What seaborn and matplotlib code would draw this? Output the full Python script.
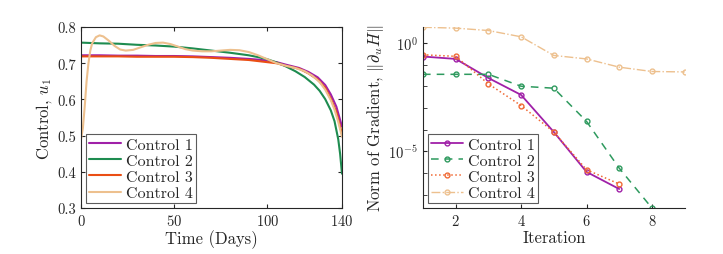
import numpy as np
import matplotlib
matplotlib.use("Agg")
import matplotlib.pyplot as plt
import seaborn as sns
import pandas as pd

sns.set_style("ticks")
plt.rcParams['font.family'] = ['cmr10', 'DejaVu Serif']
plt.rcParams['mathtext.fontset'] = 'cm'
plt.rcParams['axes.formatter.use_mathtext'] = True

# --- left panel: control profiles u1(t)
t1 = [0, 10, 20, 30, 40, 50, 60, 70, 80, 90, 95, 100, 105, 110, 117, 122, 127, 131, 134, 137, 140]
u_c1 = [0.722, 0.722, 0.721, 0.721, 0.720, 0.720, 0.719, 0.717, 0.715, 0.712, 0.710, 0.707, 0.703, 0.696, 0.687, 0.676, 0.661, 0.640, 0.614, 0.580, 0.525]
u_c3 = [0.719, 0.719, 0.719, 0.718, 0.718, 0.718, 0.717, 0.715, 0.712, 0.709, 0.706, 0.703, 0.700, 0.693, 0.685, 0.672, 0.655, 0.632, 0.602, 0.565, 0.505]

t2 = [0, 10, 20, 30, 40, 50, 60, 70, 80, 90, 95, 100, 105, 110, 115, 120, 125, 128, 131, 134, 136, 138, 139, 140]
u_c2 = [0.757, 0.755, 0.754, 0.751, 0.749, 0.746, 0.741, 0.735, 0.729, 0.722, 0.717, 0.711, 0.702, 0.691, 0.678, 0.662, 0.641, 0.624, 0.601, 0.570, 0.540, 0.490, 0.450, 0.395]

t4 = [0, 1, 2, 3, 4, 5, 6, 8, 10, 12, 15, 18, 21, 24, 28, 32, 36, 40, 44, 48, 52, 56, 60, 65, 70,
      75, 80, 85, 90, 95, 100, 105, 110, 115, 120, 124, 128, 131, 134, 136, 138, 140]
u_c4 = [0.49, 0.52, 0.58, 0.65, 0.70, 0.735, 0.755, 0.772, 0.777, 0.774, 0.762, 0.748, 0.738, 0.735,
        0.737, 0.744, 0.751, 0.756, 0.757, 0.753, 0.746, 0.739, 0.735, 0.733, 0.733, 0.735, 0.737,
        0.736, 0.731, 0.722, 0.711, 0.700, 0.693, 0.687, 0.678, 0.666, 0.648, 0.627, 0.598, 0.572,
        0.538, 0.497]

# --- right panel: gradient norm per iteration (log10 values)
it_c1 = [1, 2, 3, 4, 5, 6, 7]
g_c1 = [-0.63, -0.74, -1.62, -2.40, -4.11, -5.95, -6.74]
it_c2 = [1, 2, 3, 4, 5, 6, 7, 8]
g_c2 = [-1.45, -1.45, -1.45, -2.00, -2.09, -3.62, -5.78, -7.62]
it_c3 = [1, 2, 3, 4, 5, 6, 7]
g_c3 = [-0.55, -0.62, -1.89, -2.89, -4.11, -5.85, -6.51]
it_c4 = [1, 2, 3, 4, 5, 6, 7, 8, 9]
g_c4 = [0.72, 0.68, 0.57, 0.28, -0.58, -0.74, -1.12, -1.32, -1.34]

labels = ["Control 1", "Control 2", "Control 3", "Control 4"]
colors = ["#A020A8", "#1E8C50", "#EA4E14", "#EDC08E"]
colors_r = ["#A020A8", "#2E9A5E", "#F06A35", "#EDC08E"]

fig = plt.figure(figsize=(7.23, 2.55), dpi=100)
ax1 = fig.add_axes([0.112, 0.18, 0.361, 0.71])
ax2 = fig.add_axes([0.585, 0.18, 0.362, 0.71])

left = [(t1, u_c1), (t2, u_c2), (t1, u_c3), (t4, u_c4)]
for (t, u), lab, c in zip(left, labels, colors):
    sns.lineplot(x=t, y=u, ax=ax1, color=c, linewidth=1.5, label=lab)
ax1.set_xlim(0, 140)
ax1.set_ylim(0.3, 0.8)
ax1.set_xticks([0, 50, 100, 140])
ax1.set_yticks([0.3, 0.4, 0.5, 0.6, 0.7, 0.8])
ax1.set_yticklabels(["0.3", "0.4", "0.5", "0.6", "0.7", "0.8"])
ax1.tick_params(direction='in', top=True, right=True, labelsize=10.5, length=3)
ax1.set_xlabel("Time (Days)", fontsize=12, labelpad=1)
ax1.set_ylabel("Control, $u_1$", fontsize=12, labelpad=2)
for s in ax1.spines.values():
    s.set_linewidth(0.8)
leg1 = ax1.legend(loc='lower left', fontsize=11.5, frameon=True, fancybox=False,
                  edgecolor='#333333', borderpad=0.2, handlelength=2.0,
                  handletextpad=0.3, labelspacing=0.12, borderaxespad=0.3)
leg1.get_frame().set_linewidth(0.8)

right = [(it_c1, g_c1, '-', 1.3), (it_c2, g_c2, (0, (5, 4)), 1.1),
         (it_c3, g_c3, ':', 1.1), (it_c4, g_c4, '-.', 1.0)]
for (it, g, ls, lw), lab, c in zip(right, labels, colors_r):
    ax2.plot(it, 10.0 ** np.array(g), linestyle=ls, linewidth=lw, color=c,
             marker='o', markersize=3.5, markerfacecolor='none', markeredgewidth=1.0, label=lab)
ax2.set_yscale('log')
ax2.set_xlim(1, 9)
ax2.set_ylim(10 ** -7.62, 10 ** 0.73)
ax2.set_xticks([2, 4, 6, 8])
ax2.set_yticks([1e-5, 1e0])
ax2.yaxis.set_minor_locator(matplotlib.ticker.LogLocator(base=10, subs=[1.0], numticks=20))
ax2.yaxis.set_minor_formatter(matplotlib.ticker.NullFormatter())
ax2.tick_params(which='both', direction='in', labelsize=10.5, length=3)
ax2.set_xlabel("Iteration", fontsize=12, labelpad=1)
ax2.set_ylabel(r"Norm of Gradient, $\|\partial_u H\|$", fontsize=12, labelpad=2)
sns.despine(ax=ax2)
for s in ax2.spines.values():
    s.set_linewidth(0.8)
leg2 = ax2.legend(loc='lower left', fontsize=11.5, frameon=True, fancybox=False,
                  edgecolor='#333333', borderpad=0.2, handlelength=2.0,
                  handletextpad=0.3, labelspacing=0.12, borderaxespad=0.3)
leg2.get_frame().set_linewidth(0.8)

fig.savefig("out.png", dpi=100)
